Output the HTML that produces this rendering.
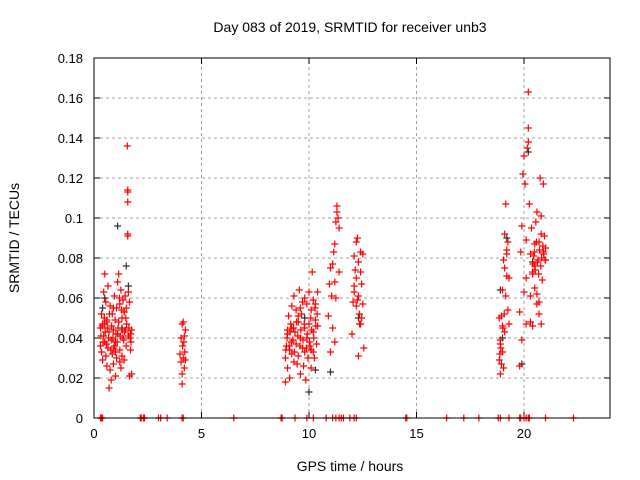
<!DOCTYPE html>
<html><head><meta charset="utf-8"><style>
body{margin:0;background:#fff}
svg{display:block;font-family:"Liberation Sans",sans-serif}
</style></head><body>
<svg id="chart" width="640" height="480">
<text x="350" y="32" text-anchor="middle" font-size="14">Day 083 of 2019, SRMTID for receiver unb3</text>
<text x="350" y="471" text-anchor="middle" font-size="14">GPS time / hours</text>
<text transform="translate(19,238) rotate(-90)" text-anchor="middle" font-size="14">SRMTID / TECUs</text>
<g id="grid"></g><g id="ticks"></g><g id="marks"></g>
<rect x="94" y="58" width="516" height="360" fill="none" stroke="#000" stroke-width="1"/>
</svg>
<script>
const xTicks=[0,5,10,15,20];
const yTicks=[0,0.02,0.04,0.06,0.08,0.1,0.12,0.14,0.16,0.18];
const yTickLabels=["0","0.02","0.04","0.06","0.08","0.1","0.12","0.14","0.16","0.18"];
const blackHours=[0.4,0.5,1.1,1.5,1.6,1.3,9.8,10.0,10.3,11.0,18.9,19.0,19.2,19.9,20.2,20.4,12.3];
const blackValues=[0.055,0.06,0.096,0.076,0.066,0.045,0.05,0.013,0.024,0.023,0.064,0.04,0.09,0.027,0.133,0.078,0.05];
const redHours=[
0.3,0.3,0.35,0.35,0.4,0.4,0.45,0.45,0.5,0.5,0.55,0.55,0.6,0.6,0.65,0.65,0.7,0.7,0.75,0.75,0.8,0.8,0.85,0.85,0.9,0.9,0.95,0.95,1.0,1.0,1.05,1.05,1.1,1.1,1.15,1.15,1.2,1.2,1.25,1.25,1.3,1.3,1.35,1.35,1.4,1.4,1.45,1.45,1.5,1.5,1.55,1.57,1.57,1.57,1.57,1.57,1.6,1.6,1.65,1.65,1.7,1.7,1.75,1.75,0.6,0.9,1.2,1.4,0.5,1.0,
0.32,0.38,0.42,0.48,0.52,0.58,0.62,0.68,0.72,0.78,0.82,0.88,0.92,0.98,1.02,1.08,1.12,1.18,1.22,1.28,1.32,1.38,1.42,1.48,1.52,1.62,1.68,1.72,
4.0,4.05,4.05,4.1,4.1,4.12,4.15,4.15,4.2,4.2,4.22,4.25,4.25,4.1,4.18,
8.9,8.9,8.95,9.0,9.0,9.05,9.1,9.1,9.15,9.2,9.2,9.25,9.3,9.3,9.35,9.4,9.4,9.45,9.5,9.5,9.55,9.6,9.6,9.65,9.7,9.7,9.75,9.8,9.8,9.85,9.9,9.9,9.95,10.0,10.0,10.05,10.1,10.1,10.15,10.2,10.2,10.25,10.3,10.3,10.35,10.4,10.4,9.2,9.5,9.8,10.1,9.0,9.6,10.2,
8.92,8.98,9.08,9.12,9.18,9.28,9.32,9.42,9.48,9.58,9.62,9.72,9.78,9.88,9.92,10.02,10.08,10.12,10.22,10.28,10.32,10.38,
10.9,10.95,11.0,11.0,11.05,11.1,11.1,11.15,11.2,11.2,11.25,11.3,11.3,11.35,11.4,11.4,11.2,11.25,
12.0,12.05,12.1,12.1,12.15,12.2,12.2,12.25,12.3,12.3,12.35,12.4,12.4,12.45,12.5,12.5,12.55,12.2,12.3,12.45,12.1,12.4,12.35,12.25,
18.85,18.85,18.9,18.9,18.95,18.95,19.0,19.0,19.05,19.05,19.1,19.1,19.15,19.15,19.2,19.2,19.25,19.25,19.3,19.3,19.0,19.1,19.2,18.9,
19.8,19.8,19.85,19.9,19.9,19.95,20.0,20.0,20.05,20.1,20.1,20.15,20.2,20.2,20.25,20.3,20.3,20.35,20.4,20.4,20.45,20.5,20.5,20.55,20.6,20.6,20.65,20.7,20.7,20.75,20.8,20.8,20.85,20.9,20.9,20.95,21.0,21.0,20.2,20.3,20.4,20.6,20.8,20.5,20.1,20.7,
20.42,20.48,20.52,20.58,20.62,20.68,20.72,20.78,20.82,20.88,20.92,20.98,18.88,18.92,19.02,19.08,
0.3,0.35,0.4,2.15,2.2,2.3,2.35,3.0,3.1,3.4,4.1,4.15,6.5,8.7,8.75,9.35,9.9,10.2,10.8,11.1,11.25,11.4,11.5,11.6,11.9,12.1,12.2,14.5,14.55,16.4,17.2,17.9,18.8,18.9,19.3,19.8,19.85,20.0,20.1,20.2,20.25,21.0,22.3];
const redValues=[
0.045,0.036,0.052,0.033,0.047,0.029,0.063,0.041,0.072,0.038,0.058,0.031,0.049,0.026,0.066,0.035,0.043,0.015,0.056,0.024,0.039,0.019,0.052,0.032,0.044,0.027,0.061,0.036,0.038,0.021,0.055,0.030,0.068,0.042,0.072,0.048,0.057,0.034,0.064,0.025,0.050,0.031,0.059,0.040,0.053,0.029,0.061,0.044,0.055,0.036,0.136,0.114,0.113,0.108,0.091,0.092,0.063,0.041,0.058,0.021,0.042,0.034,0.044,0.022,0.048,0.055,0.028,0.053,0.047,0.033,
0.041,0.046,0.038,0.050,0.043,0.037,0.045,0.040,0.052,0.034,0.046,0.040,0.035,0.049,0.042,0.038,0.045,0.060,0.041,0.054,0.044,0.039,0.043,0.050,0.047,0.045,0.040,0.038,
0.032,0.040,0.028,0.047,0.017,0.036,0.030,0.048,0.041,0.025,0.033,0.044,0.029,0.022,0.038,
0.030,0.018,0.036,0.044,0.025,0.051,0.034,0.020,0.047,0.032,0.056,0.039,0.028,0.061,0.043,0.037,0.054,0.027,0.048,0.031,0.064,0.040,0.022,0.052,0.035,0.058,0.026,0.045,0.033,0.019,0.057,0.040,0.030,0.063,0.047,0.036,0.054,0.025,0.073,0.043,0.059,0.030,0.049,0.057,0.037,0.046,0.063,0.045,0.051,0.060,0.034,0.042,0.055,0.033,
0.034,0.040,0.036,0.043,0.038,0.045,0.033,0.048,0.041,0.036,0.044,0.039,0.047,0.035,0.042,0.038,0.050,0.044,0.040,0.055,0.046,0.052,
0.051,0.067,0.075,0.033,0.061,0.077,0.045,0.083,0.087,0.038,0.098,0.103,0.106,0.100,0.095,0.073,0.068,0.060,
0.042,0.058,0.081,0.066,0.074,0.088,0.056,0.090,0.061,0.078,0.052,0.047,0.083,0.067,0.057,0.082,0.035,0.070,0.031,0.050,0.063,0.073,0.047,0.059,
0.029,0.050,0.022,0.037,0.051,0.027,0.033,0.064,0.025,0.079,0.043,0.092,0.061,0.107,0.084,0.071,0.054,0.088,0.047,0.070,0.046,0.075,0.082,0.039,
0.026,0.053,0.083,0.096,0.039,0.122,0.063,0.131,0.117,0.070,0.047,0.135,0.163,0.145,0.107,0.082,0.061,0.095,0.046,0.072,0.081,0.065,0.087,0.098,0.057,0.103,0.079,0.052,0.088,0.120,0.047,0.101,0.069,0.083,0.117,0.091,0.079,0.085,0.138,0.048,0.073,0.062,0.092,0.076,0.089,0.058,
0.077,0.083,0.074,0.088,0.078,0.072,0.084,0.076,0.080,0.086,0.082,0.079,0.032,0.035,0.045,0.052,
0,0,0,0,0,0,0,0,0,0,0,0,0,0,0,0,0,0,0,0,0,0,0,0,0,0,0,0,0,0,0,0,0,0,0,0,0,0,0,0,0,0,0];
const NS='http://www.w3.org/2000/svg';
const X0=94,X1=610,Y0=418,Y1=58,XMAX=24,YMAX=0.18;
function sx(h){return X0+(X1-X0)*h/XMAX;}
function sy(v){return Y0-(Y0-Y1)*v/YMAX;}
function mk(tag,attrs,parent){const e=document.createElementNS(NS,tag);for(const k in attrs)e.setAttribute(k,attrs[k]);parent.appendChild(e);return e;}
const grid=document.getElementById('grid'),ticks=document.getElementById('ticks'),marks=document.getElementById('marks');
yTicks.forEach((v,i)=>{
 const y=sy(v);
 if(i>0&&i<yTicks.length-1){const g=mk('line',{x1:X0,x2:X1,y1:y,y2:y,stroke:'#a0a0a0','stroke-dasharray':'3,3'},grid);
 
 }
 mk('line',{x1:X0,x2:X0+6,y1:y,y2:y,stroke:'#000'},ticks);
 mk('line',{x1:X1,x2:X1-6,y1:y,y2:y,stroke:'#000'},ticks);
 const t=mk('text',{x:83,y:y+5,'text-anchor':'end','font-size':'13'},ticks);t.textContent=yTickLabels[i];
 
 
});
xTicks.forEach(h=>{
 const x=sx(h);
 if(h>0){const g=mk('line',{x1:x,x2:x,y1:Y0,y2:Y1,stroke:'#a0a0a0','stroke-dasharray':'3,3'},grid);
 
 }
 mk('line',{x1:x,x2:x,y1:Y0,y2:Y0-6,stroke:'#000'},ticks);
 mk('line',{x1:x,x2:x,y1:Y1,y2:Y1+6,stroke:'#000'},ticks);
 const t=mk('text',{x:x,y:Y0+20,'text-anchor':'middle','font-size':'13'},ticks);t.textContent=String(h);
 
 
});
function plus(h,v,color,name){
 const x=sx(h),y=sy(v);
 const p=mk('path',{d:`M${x-3.5},${y}h7M${x},${y-3.5}v7`,stroke:color,'stroke-width':'1.2',fill:'none'},marks);
 
 
}
blackHours.forEach((h,i)=>plus(h,blackValues[i],'#303030','srmtid-point-black'));
redHours.forEach((h,i)=>plus(h,redValues[i],'#ff0000','srmtid-point-red'));
</script>
</body></html>
